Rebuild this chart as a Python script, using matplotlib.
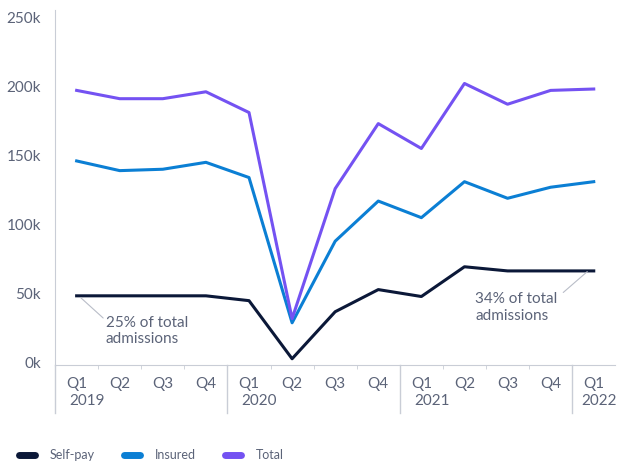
import numpy as np
import matplotlib.pyplot as plt
from matplotlib.transforms import blended_transform_factory

plt.rcParams['font.family'] = ['Lato', 'DejaVu Sans']

#Quarter labels and years
quarters = ['Q1', 'Q2', 'Q3', 'Q4', 'Q1', 'Q2', 'Q3', 'Q4', 'Q1', 'Q2', 'Q3', 'Q4', 'Q1']
years = ['2019', '2020', '2021', '2022']
year_pos = [0, 4, 8, 12]

#Admissions (thousands)
self_pay = [48.5, 48.5, 48.5, 48.5, 45, 3, 37, 53, 48, 69.5, 66.5, 66.5, 66.5]
insured = [146, 139, 140, 145, 134, 29, 88, 117, 105, 131, 119, 127, 131]
total = [197, 191, 191, 196, 181, 32, 126, 173, 155, 202, 187, 197, 198]

txt = '#5b6378'
axc = '#c9cdd6'

fig = plt.figure(figsize=(6.19, 4.62), dpi=100)
ax = fig.add_axes([0.089, 0.21, 0.905, 0.768])

x = np.arange(len(quarters))
ax.plot(x, self_pay, color='#0b1838', lw=2.2, label='Self-pay')
ax.plot(x, insured, color='#0b7fd4', lw=2.2, label='Insured')
ax.plot(x, total, color='#7452f2', lw=2.2, label='Total')

ax.set_xlim(-0.5, 12.5)
ax.set_ylim(-1.5, 255)

#Axes styling
for s in ['top', 'right']:
    ax.spines[s].set_visible(False)
ax.spines['left'].set_color(axc)
ax.spines['bottom'].set_color(axc)
ax.set_yticks([0, 50, 100, 150, 200, 250])
ax.set_yticklabels(['0k', '50k', '100k', '150k', '200k', '250k'])
ax.tick_params(axis='y', length=0, pad=10, labelsize=11, labelcolor=txt)
ax.set_xticks(x)
ax.set_xticklabels(quarters)
ax.tick_params(axis='x', length=0, pad=9, labelsize=11, labelcolor=txt)
ax.set_xticks(np.arange(0.5, 12.5, 1), minor=True)
ax.tick_params(axis='x', which='minor', length=3, color=axc)

#Year labels and separators
tr = blended_transform_factory(ax.transData, ax.transAxes)
for p, yr in zip(year_pos, years):
    shift = 0.3 if yr == '2022' else 0.17
    ax.text(p - shift, -0.083, yr, transform=tr, ha='left', va='top',
            fontsize=11, color=txt)
for b in [-0.5, 3.5, 7.5, 11.5]:
    ax.plot([b, b], [0, -0.135], transform=tr, color=axc, lw=1, clip_on=False)

#Annotations
ax.annotate('25% of total\nadmissions', xy=(0.1, 47), xytext=(0.68, 23),
            fontsize=11, color=txt, ha='left', va='center', linespacing=1.2,
            arrowprops=dict(arrowstyle='-', color='#b9bdc8', lw=0.8,
                            shrinkA=0, shrinkB=0, relpos=(0, 0.85)))
ax.annotate('34% of total\nadmissions', xy=(11.85, 66), xytext=(9.25, 40),
            fontsize=11, color=txt, ha='left', va='center', linespacing=1.2,
            arrowprops=dict(arrowstyle='-', color='#b9bdc8', lw=0.8,
                            shrinkA=0, shrinkB=0, relpos=(1.07, 1.0)))

#Legend
leg = fig.legend(loc='lower left', bbox_to_anchor=(0.012, -0.022), ncol=3,
                 frameon=False, fontsize=9, handlelength=1.3, columnspacing=2.3,
                 handletextpad=1.2)
for h in leg.legend_handles:
    h.set_linewidth(5)
    h.set_solid_capstyle('round')
for t in leg.get_texts():
    t.set_color(txt)

plt.savefig('out.png', dpi=100)
